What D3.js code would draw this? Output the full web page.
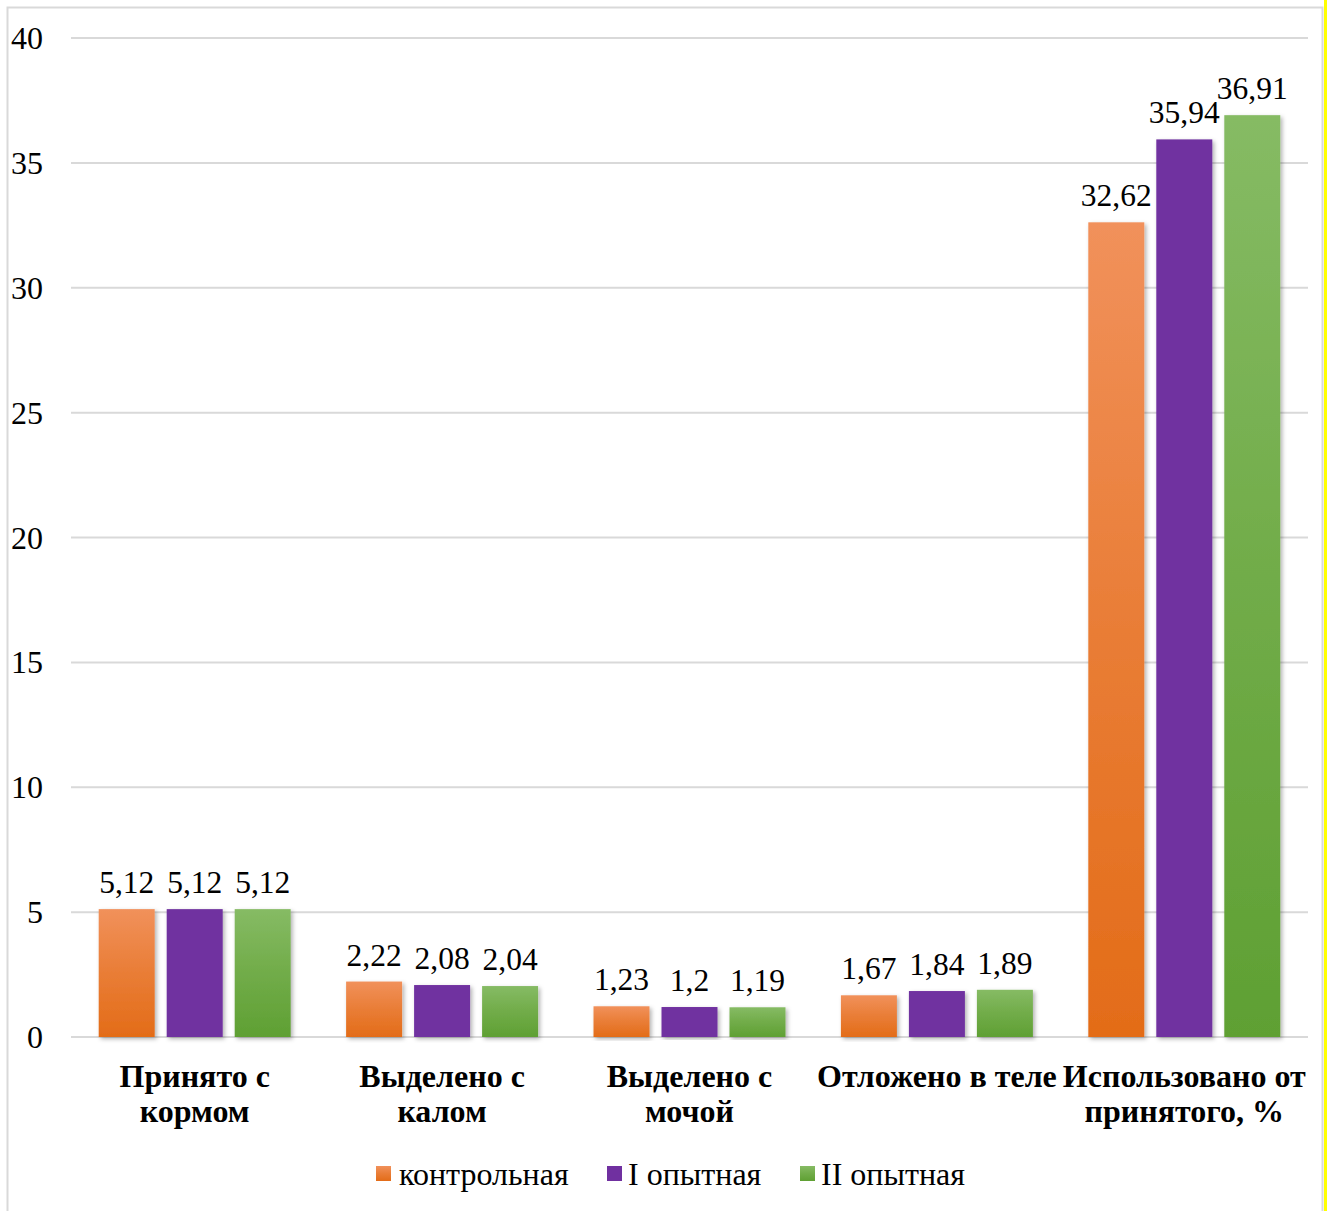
<!DOCTYPE html>
<html><head><meta charset="utf-8">
<script src="https://cdn.jsdelivr.net/npm/d3@7"></script>
<style>body{margin:0;background:#fff}svg{display:block}</style>
</head><body>
<script>
const categories = [
  ["Принято с", "кормом"],
  ["Выделено с", "калом"],
  ["Выделено с", "мочой"],
  ["Отложено в теле"],
  ["Использовано от", "принятого, %"]
];
const seriesNames = ["контрольная", "I опытная", "II опытная"];
const control = [5.12, 2.22, 1.23, 1.67, 32.62];
const exp1 = [5.12, 2.08, 1.2, 1.84, 35.94];
const exp2 = [5.12, 2.04, 1.19, 1.89, 36.91];
const valueLabels = [
  ["5,12", "2,22", "1,23", "1,67", "32,62"],
  ["5,12", "2,08", "1,2", "1,84", "35,94"],
  ["5,12", "2,04", "1,19", "1,89", "36,91"]
];
const yTicks = [0, 5, 10, 15, 20, 25, 30, 35, 40];
const seriesValues = [control, exp1, exp2];

(function () {
const W = 1330, H = 1211;
const FONT = "Liberation Serif, Times New Roman, serif";
const svg = d3.select("body").append("svg").attr("width", W).attr("height", H);
const defs = svg.append("defs");

function grad(id, c1, c2) {
  const g = defs.append("linearGradient").attr("id", id).attr("x1", 0).attr("y1", 0).attr("x2", 0).attr("y2", 1);
  g.append("stop").attr("offset", "0%").attr("stop-color", c1);
  g.append("stop").attr("offset", "50%").attr("stop-color", d3.interpolateRgb(c1, c2)(0.55));
  g.append("stop").attr("offset", "100%").attr("stop-color", c2);
}
grad("gOrange", "#F1915B", "#E36C18");
grad("gPurple", "#7030A0", "#7030A0");
grad("gGreen", "#86BB64", "#5FA033");
const fills = ["url(#gOrange)", "url(#gPurple)", "url(#gGreen)"];

const f = defs.append("filter").attr("id", "shadow").attr("x", "-20%").attr("y", "-5%").attr("width", "140%").attr("height", "115%");
f.append("feDropShadow").attr("dx", 2).attr("dy", 2).attr("stdDeviation", 2.2).attr("flood-color", "#000").attr("flood-opacity", 0.3);

svg.append("rect").attr("x", 7.5).attr("y", 7.5).attr("width", 1315).attr("height", 1230)
  .attr("fill", "#fff").attr("stroke", "#D9D9D9").attr("stroke-width", 2);
svg.append("rect").attr("x", 1324).attr("y", 0).attr("width", 3).attr("height", H).attr("fill", "#FFFF00");

const pLeft = 71, pRight = 1308, pTop = 38, pBottom = 1037;
const y = d3.scaleLinear().domain([0, 40]).range([pBottom, pTop]);
const x0 = d3.scaleBand().domain(d3.range(categories.length)).range([pLeft, pRight]).paddingInner(0.224).paddingOuter(0.112);
const x1 = d3.scaleBand().domain(d3.range(seriesNames.length)).range([0, x0.bandwidth()]).paddingInner(0.1765).paddingOuter(0);

svg.append("g").selectAll("line").data(yTicks).join("line")
  .attr("x1", pLeft).attr("x2", pRight)
  .attr("y1", d => y(d)).attr("y2", d => y(d))
  .attr("stroke", "#D9D9D9").attr("stroke-width", 2);

svg.append("g").selectAll("text").data(yTicks).join("text")
  .attr("x", 43).attr("y", d => y(d) + 11)
  .attr("text-anchor", "end")
  .attr("font-family", FONT)
  .attr("font-size", 32).attr("fill", "#000")
  .text(d => d);

const groups = svg.append("g").selectAll("g").data(categories).join("g")
  .attr("transform", (d, i) => `translate(${x0(i)},0)`);
seriesValues.forEach((vals, s) => {
  groups.append("rect")
    .attr("x", x1(s)).attr("width", x1.bandwidth())
    .attr("y", (d, i) => y(vals[i]))
    .attr("height", (d, i) => y(0) - y(vals[i]))
    .attr("fill", fills[s])
    .attr("filter", "url(#shadow)");
  groups.append("text")
    .attr("x", x1(s) + x1.bandwidth() / 2)
    .attr("y", (d, i) => y(vals[i]) - 16)
    .attr("text-anchor", "middle")
    .attr("font-family", FONT)
    .attr("font-size", 31.5).attr("fill", "#000")
    .text((d, i) => valueLabels[s][i]);
});

groups.each(function(lines) {
  const t = d3.select(this).append("text")
    .attr("text-anchor", "middle")
    .attr("font-family", FONT)
    .attr("font-weight", "bold")
    .attr("font-size", 32).attr("fill", "#000");
  lines.forEach((ln, k) => {
    t.append("tspan").attr("x", x0.bandwidth() / 2).attr("y", 1087 + k * 35).text(ln);
  });
});

const legendItems = [ { sq: 376, tx: 399 }, { sq: 607, tx: 628 }, { sq: 800, tx: 821 } ];
const lg = svg.append("g");
seriesNames.forEach((name, s) => {
  lg.append("rect").attr("x", legendItems[s].sq).attr("y", 1166).attr("width", 15).attr("height", 15).attr("fill", fills[s]);
  lg.append("text").attr("x", legendItems[s].tx).attr("y", 1185)
    .attr("font-family", FONT)
    .attr("font-size", 32).attr("fill", "#000").text(name);
});
})();
</script>
</body></html>
